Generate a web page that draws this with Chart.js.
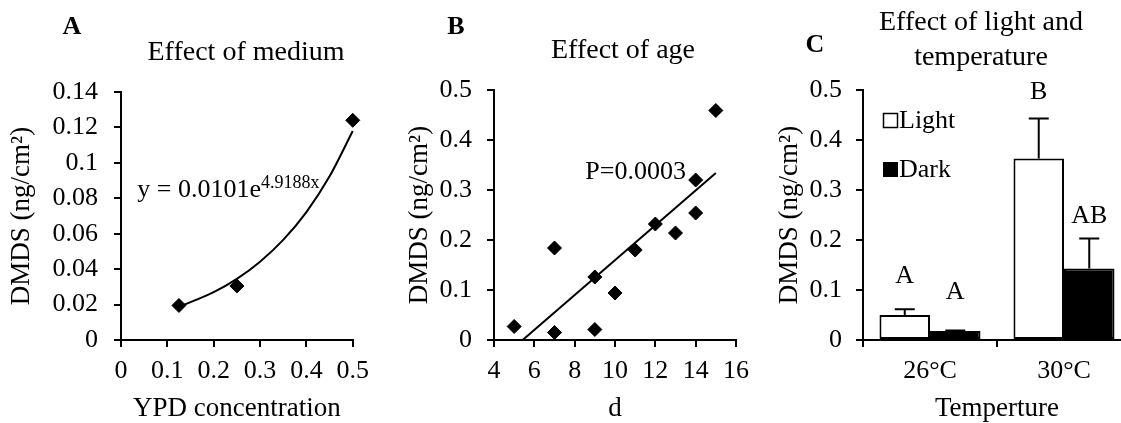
<!DOCTYPE html>
<html><head><meta charset="utf-8">
<script src="https://cdn.jsdelivr.net/npm/chart.js@4.4.0/dist/chart.umd.min.js"></script>
<style>
html,body{margin:0;padding:0;background:#fff;overflow:hidden;width:1121px;height:423px;position:relative;}
canvas{position:absolute;top:0;}
</style></head><body>
<canvas id="cA" width="380" height="423" style="left:0px"></canvas>
<canvas id="cB" width="380" height="423" style="left:380px"></canvas>
<canvas id="cC" width="380" height="423" style="left:760px"></canvas>
<script>
// ---- Panel A: effect of medium ----
const mediumX = [0.125, 0.25, 0.5];
const mediumY = [0.0195, 0.0305, 0.124];
const mediumTrendX = [0.125, 0.2, 0.25, 0.3, 0.35, 0.4, 0.45, 0.5];
const mediumTrendY = [0.0187, 0.0270, 0.0345, 0.0442, 0.0565, 0.0722, 0.0924, 0.118];
const mediumXTicks = ['0', '0.1', '0.2', '0.3', '0.4', '0.5'];
const mediumYTicks = ['0', '0.02', '0.04', '0.06', '0.08', '0.1', '0.12', '0.14'];
const mediumEquation = ['y = 0.0101e', '4.9188x'];

// ---- Panel B: effect of age ----
const ageX = [5, 7, 7, 9, 9, 10, 11, 12, 13, 14, 14, 15];
const ageY = [0.027, 0.184, 0.015, 0.126, 0.021, 0.094, 0.18, 0.232, 0.214, 0.32, 0.254, 0.459];
const ageFitX = [5.42, 15];
const ageFitY = [0, 0.334];
const ageXTicks = ['4', '6', '8', '10', '12', '14', '16'];
const ageYTicks = ['0', '0.1', '0.2', '0.3', '0.4', '0.5'];
const ageNote = 'P=0.0003';

// ---- Panel C: light and temperature ----
const tempCategories = ['26°C', '30°C'];
const lightMeans = [0.05, 0.363];
const lightErr = [0.0115, 0.08];
const darkMeans = [0.018, 0.143];
const darkErr = [0.0012, 0.06];
const lightLetters = ['A', 'B'];
const darkLetters = ['A', 'AB'];
const lightLetterLevel = [0.127, 0.495];
const darkLetterLevel = [0.095, 0.248];
const barYTicks = ['0', '0.1', '0.2', '0.3', '0.4', '0.5'];

const SERIF = "'Liberation Serif', 'Times New Roman', Times, serif";
const TICK = 26, AX = 27, TTL = 28;

function axis(o) {
  const ticks = {
    stepSize: o.step, color: '#000', padding: o.tpad, autoSkip: false, maxRotation: 0,
    font: { family: SERIF, size: TICK, lineHeight: 1 }
  };
  if (o.labels) ticks.callback = (v, i) => o.labels[i];
  const a = {
    type: o.type || 'linear', position: o.pos,
    afterFit: s => { if (o.pos === 'left') s.width = o.size; else s.height = o.size; },
    border: { display: true, color: '#000', width: 2 },
    grid: { display: true, drawOnChartArea: false, drawTicks: true, tickLength: 7, color: '#000', lineWidth: 2 },
    ticks,
    title: { display: true, text: o.title, color: '#000', font: { family: SERIF, size: AX, lineHeight: 1 }, padding: o.titlePad }
  };
  if (o.min !== undefined) { a.min = o.min; a.max = o.max; }
  return a;
}

function textPlugin(items) {
  return { id: 'txt', afterDraw(chart) {
    const c = chart.ctx; c.save(); c.fillStyle = '#000'; c.textBaseline = 'middle';
    items.forEach(t => { c.font = t.font; c.textAlign = t.align || 'center'; c.fillText(t.text, t.x, t.y); });
    c.restore();
  } };
}

const base = { responsive: false, animation: false, events: [], devicePixelRatio: 1,
  plugins: { legend: { display: false }, tooltip: { enabled: false } } };

// Panel A
new Chart(document.getElementById('cA'), {
  type: 'scatter',
  data: { datasets: [
    { data: mediumTrendX.map((x, i) => ({ x, y: mediumTrendY[i] })), showLine: true, pointRadius: 0,
      borderColor: '#000', borderWidth: 2, cubicInterpolationMode: 'monotone', clip: false },
    { data: mediumX.map((x, i) => ({ x, y: mediumY[i] })), pointStyle: 'rectRot', pointRadius: 7,
      backgroundColor: '#000', borderColor: '#000', clip: false }
  ] },
  options: Object.assign({}, base, {
    layout: { padding: { left: 0, right: 17, top: 92, bottom: 0 } },
    scales: {
      x: axis({ pos: 'bottom', min: 0, max: 0.5, step: 0.1, labels: mediumXTicks, size: 83, tpad: 11, title: 'YPD concentration', titlePad: { top: 0, bottom: 1 } }),
      y: axis({ pos: 'left', min: 0, max: 0.14, step: 0.02, labels: mediumYTicks, size: 121, tpad: 16, title: 'DMDS (ng/cm²)', titlePad: { top: 8, bottom: 0 } })
    }
  }),
  plugins: [textPlugin([
    { text: 'A', x: 72, y: 27, font: 'bold 26px ' + SERIF },
    { text: 'Effect of medium', x: 246, y: 53, font: TTL + 'px ' + SERIF }
  ]), { id: 'eq', afterDraw(chart) {
    const c = chart.ctx, xs = chart.scales.x, ys = chart.scales.y;
    const x0 = xs.getPixelForValue(0.035), y0 = ys.getPixelForValue(0.0847);
    c.save(); c.fillStyle = '#000'; c.textBaseline = 'middle'; c.textAlign = 'left';
    c.font = '26px ' + SERIF; c.fillText(mediumEquation[0], x0, y0);
    const w = c.measureText(mediumEquation[0]).width;
    c.font = '18px ' + SERIF; c.fillText(mediumEquation[1], x0 + w, y0 - 7);
    c.restore();
  } }]
});

// Panel B
new Chart(document.getElementById('cB'), {
  type: 'scatter',
  data: { datasets: [
    { data: ageFitX.map((x, i) => ({ x, y: ageFitY[i] })), showLine: true, pointRadius: 0,
      borderColor: '#000', borderWidth: 2 },
    { data: ageX.map((x, i) => ({ x, y: ageY[i] })), pointStyle: 'rectRot', pointRadius: 7,
      backgroundColor: '#000', borderColor: '#000', clip: false }
  ] },
  options: Object.assign({}, base, {
    layout: { padding: { left: 0, right: 14, top: 90, bottom: 0 } },
    scales: {
      x: axis({ pos: 'bottom', min: 4, max: 16, step: 2, labels: ageXTicks, size: 83, tpad: 11, title: 'd', titlePad: { top: 0, bottom: 1 } }),
      y: axis({ pos: 'left', min: 0, max: 0.5, step: 0.1, labels: ageYTicks, size: 114, tpad: 15, title: 'DMDS (ng/cm²)', titlePad: { top: 26, bottom: 0 } })
    }
  }),
  plugins: [textPlugin([
    { text: 'B', x: 76, y: 27, font: 'bold 26px ' + SERIF },
    { text: 'Effect of age', x: 243, y: 51, font: TTL + 'px ' + SERIF }
  ]), { id: 'note', afterDraw(chart) {
    const c = chart.ctx, xs = chart.scales.x, ys = chart.scales.y;
    c.save(); c.fillStyle = '#000'; c.textBaseline = 'middle'; c.textAlign = 'right';
    c.font = '26px ' + SERIF; c.fillText(ageNote, xs.getPixelForValue(13.52), ys.getPixelForValue(0.336));
    c.restore();
  } }]
});

// Panel C
const errSets = [lightErr, darkErr];
const letterSets = [lightLetters, darkLetters];
const letterLevels = [lightLetterLevel, darkLetterLevel];
new Chart(document.getElementById('cC'), {
  type: 'bar',
  data: { labels: tempCategories, datasets: [
    { label: 'Light', data: lightMeans, backgroundColor: '#fff', borderColor: '#000', borderWidth: 2, borderSkipped: false,
      categoryPercentage: 0.754, barPercentage: 1 },
    { label: 'Dark', data: darkMeans, backgroundColor: '#000', borderColor: '#000', borderWidth: 2, borderSkipped: false,
      categoryPercentage: 0.754, barPercentage: 1 }
  ] },
  options: Object.assign({}, base, {
    layout: { padding: { left: 0, right: 9, top: 90, bottom: 0 } },
    scales: {
      x: axis({ type: 'category', pos: 'bottom', size: 83, tpad: 11, title: 'Temperture', titlePad: { top: 0, bottom: 1 } }),
      y: axis({ pos: 'left', min: 0, max: 0.5, step: 0.1, labels: barYTicks, size: 103, tpad: 14, title: 'DMDS (ng/cm²)', titlePad: { top: 16, bottom: 0 } })
    }
  }),
  plugins: [textPlugin([
    { text: 'C', x: 55, y: 45, font: 'bold 26px ' + SERIF },
    { text: 'Effect of light and', x: 221, y: 23, font: TTL + 'px ' + SERIF },
    { text: 'temperature', x: 221, y: 58, font: TTL + 'px ' + SERIF },
    { text: 'Light', x: 139, y: 121, align: 'left', font: '26px ' + SERIF },
    { text: 'Dark', x: 139, y: 170, align: 'left', font: '26px ' + SERIF }
  ]), { id: 'extras', afterDatasetsDraw(chart) {
    const c = chart.ctx, ys = chart.scales.y;
    c.save(); c.strokeStyle = '#000'; c.fillStyle = '#000'; c.lineWidth = 2;
    chart.data.datasets.forEach((ds, di) => {
      chart.getDatasetMeta(di).data.forEach((bar, i) => {
        const top = ys.getPixelForValue(ds.data[i] + errSets[di][i]);
        c.beginPath(); c.moveTo(bar.x, bar.y); c.lineTo(bar.x, top);
        c.moveTo(bar.x - 10, top); c.lineTo(bar.x + 10, top); c.stroke();
        c.font = '26px ' + SERIF; c.textAlign = 'center'; c.textBaseline = 'middle';
        c.fillText(letterSets[di][i], bar.x, ys.getPixelForValue(letterLevels[di][i]));
      });
    });
    c.lineWidth = 1.5;
    c.strokeRect(123.5, 113.5, 14, 14);
    c.fillRect(123, 162, 15, 15);
    c.restore();
  } }]
});
</script>
</body></html>
